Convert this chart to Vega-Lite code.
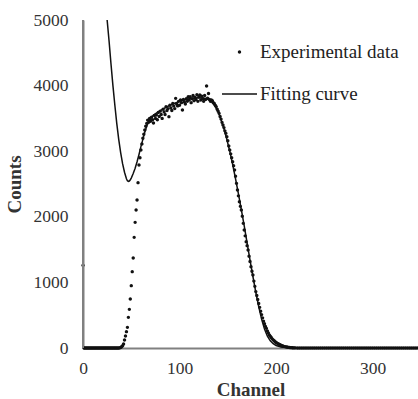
{
  "$schema": "https://vega.github.io/schema/vega-lite/v6.json",
  "width": 335,
  "height": 328,
  "autosize": "none",
  "padding": {"left": 83, "top": 20, "right": 0, "bottom": 51},
  "background": "white",
  "datasets": {
    "exp": [
      {"c":0,"v":1260},{"c":1,"v":0},{"c":2,"v":0},{"c":3,"v":0},{"c":4,"v":0},{"c":5,"v":0},{"c":6,"v":0},{"c":7,"v":0},{"c":8,"v":0},{"c":9,"v":0},{"c":10,"v":0},
      {"c":11,"v":0},{"c":12,"v":0},{"c":13,"v":0},{"c":14,"v":0},{"c":15,"v":0},{"c":16,"v":0},{"c":17,"v":0},{"c":18,"v":0},{"c":19,"v":0},{"c":20,"v":0},
      {"c":21,"v":0},{"c":22,"v":0},{"c":23,"v":0},{"c":24,"v":0},{"c":25,"v":0},{"c":26,"v":0},{"c":27,"v":0},{"c":28,"v":0},{"c":29,"v":0},{"c":30,"v":0},
      {"c":31,"v":0},{"c":32,"v":0},{"c":33,"v":0},{"c":34,"v":0},{"c":35,"v":0},{"c":36,"v":0},{"c":37,"v":0},{"c":38,"v":2},{"c":39,"v":8},{"c":40,"v":20},
      {"c":41,"v":35},{"c":42,"v":61},{"c":43,"v":122},{"c":44,"v":183},{"c":45,"v":249},{"c":46,"v":315},{"c":47,"v":468},{"c":48,"v":590},{"c":49,"v":747},{"c":50,"v":950},
      {"c":51,"v":1163},{"c":52,"v":1372},{"c":53,"v":1687},{"c":54,"v":1916},{"c":55,"v":2104},{"c":56,"v":2256},{"c":57,"v":2520},{"c":58,"v":2790},{"c":59,"v":2900},{"c":60,"v":3018},
      {"c":61,"v":3110},{"c":62,"v":3197},{"c":63,"v":3260},{"c":64,"v":3323},{"c":65,"v":3380},{"c":66,"v":3425},{"c":67,"v":3475},{"c":68,"v":3440},{"c":69,"v":3500},{"c":70,"v":3455},
      {"c":71,"v":3520},{"c":72,"v":3480},{"c":73,"v":3430},{"c":74,"v":3545},{"c":75,"v":3500},{"c":76,"v":3552},{"c":77,"v":3480},{"c":78,"v":3590},{"c":79,"v":3530},{"c":80,"v":3610},
      {"c":81,"v":3560},{"c":82,"v":3500},{"c":83,"v":3640},{"c":84,"v":3600},{"c":85,"v":3560},{"c":86,"v":3679},{"c":87,"v":3620},{"c":88,"v":3650},{"c":89,"v":3526},{"c":90,"v":3700},
      {"c":91,"v":3660},{"c":92,"v":3620},{"c":93,"v":3730},{"c":94,"v":3690},{"c":95,"v":3650},{"c":96,"v":3806},{"c":97,"v":3720},{"c":98,"v":3690},{"c":99,"v":3760},{"c":100,"v":3700},
      {"c":101,"v":3780},{"c":102,"v":3740},{"c":103,"v":3628},{"c":104,"v":3790},{"c":105,"v":3750},{"c":106,"v":3720},{"c":107,"v":3800},{"c":108,"v":3760},{"c":109,"v":3830},{"c":110,"v":3780},
      {"c":111,"v":3831},{"c":112,"v":3740},{"c":113,"v":3800},{"c":114,"v":3850},{"c":115,"v":3770},{"c":116,"v":3820},{"c":117,"v":3790},{"c":118,"v":3860},{"c":119,"v":3760},{"c":120,"v":3830},
      {"c":121,"v":3857},{"c":122,"v":3780},{"c":123,"v":3840},{"c":124,"v":3800},{"c":125,"v":3760},{"c":126,"v":3850},{"c":127,"v":3790},{"c":128,"v":3994},{"c":129,"v":3810},{"c":130,"v":3880},
      {"c":131,"v":3790},{"c":132,"v":3760},{"c":133,"v":3780},{"c":134,"v":3770},{"c":135,"v":3740},{"c":136,"v":3730},{"c":137,"v":3700},{"c":138,"v":3680},{"c":139,"v":3640},{"c":140,"v":3610},
      {"c":141,"v":3577},{"c":142,"v":3530},{"c":143,"v":3490},{"c":144,"v":3440},{"c":145,"v":3400},{"c":146,"v":3360},{"c":147,"v":3310},{"c":148,"v":3272},{"c":149,"v":3220},{"c":150,"v":3160},
      {"c":151,"v":3080},{"c":152,"v":3018},{"c":153,"v":2960},{"c":154,"v":2900},{"c":155,"v":2840},{"c":156,"v":2780},{"c":157,"v":2713},{"c":158,"v":2620},{"c":159,"v":2510},{"c":160,"v":2408},
      {"c":161,"v":2320},{"c":162,"v":2230},{"c":163,"v":2160},{"c":164,"v":2104},{"c":165,"v":2010},{"c":166,"v":1900},{"c":167,"v":1799},{"c":168,"v":1710},{"c":169,"v":1620},{"c":170,"v":1560},
      {"c":171,"v":1494},{"c":172,"v":1400},{"c":173,"v":1320},{"c":174,"v":1240},{"c":175,"v":1170},{"c":176,"v":1113},{"c":177,"v":1020},{"c":178,"v":940},{"c":179,"v":860},{"c":180,"v":800},
      {"c":181,"v":740},{"c":182,"v":680},{"c":183,"v":620},{"c":184,"v":560},{"c":185,"v":510},{"c":186,"v":460},{"c":187,"v":410},{"c":188,"v":370},{"c":189,"v":330},{"c":190,"v":300},
      {"c":191,"v":260},{"c":192,"v":230},{"c":193,"v":200},{"c":194,"v":180},{"c":195,"v":160},{"c":196,"v":140},{"c":197,"v":125},{"c":198,"v":110},{"c":199,"v":95},{"c":200,"v":85},
      {"c":201,"v":75},{"c":202,"v":65},{"c":203,"v":57},{"c":204,"v":50},{"c":205,"v":42},{"c":206,"v":36},{"c":207,"v":30},{"c":208,"v":25},{"c":209,"v":21},{"c":210,"v":18},
      {"c":211,"v":15},{"c":212,"v":12},{"c":213,"v":10},{"c":214,"v":8},{"c":215,"v":6},{"c":216,"v":5},{"c":217,"v":4},{"c":218,"v":3},{"c":219,"v":2},{"c":220,"v":2},
      {"c":222,"v":0},{"c":224,"v":0},{"c":226,"v":0},{"c":228,"v":0},{"c":230,"v":0},{"c":232,"v":0},{"c":234,"v":0},{"c":236,"v":0},{"c":238,"v":0},{"c":240,"v":0},
      {"c":242,"v":0},{"c":244,"v":0},{"c":246,"v":0},{"c":248,"v":0},{"c":250,"v":0},{"c":252,"v":0},{"c":254,"v":0},{"c":256,"v":0},{"c":258,"v":0},{"c":260,"v":0},
      {"c":262,"v":0},{"c":264,"v":0},{"c":266,"v":0},{"c":268,"v":0},{"c":270,"v":0},{"c":272,"v":0},{"c":274,"v":0},{"c":276,"v":0},{"c":278,"v":0},{"c":280,"v":0},
      {"c":282,"v":0},{"c":284,"v":0},{"c":286,"v":0},{"c":288,"v":0},{"c":290,"v":0},{"c":292,"v":0},{"c":294,"v":0},{"c":296,"v":0},{"c":298,"v":0},{"c":300,"v":0},
      {"c":302,"v":0},{"c":304,"v":0},{"c":306,"v":0},{"c":308,"v":0},{"c":310,"v":0},{"c":312,"v":0},{"c":314,"v":0},{"c":316,"v":0},{"c":318,"v":0},{"c":320,"v":0},
      {"c":322,"v":0},{"c":324,"v":0},{"c":326,"v":0},{"c":328,"v":0},{"c":330,"v":0},{"c":332,"v":0},{"c":334,"v":0},{"c":336,"v":0},{"c":338,"v":0},{"c":340,"v":0},
      {"c":342,"v":0},{"c":344,"v":0},{"c":346,"v":0}
    ],
    "fit": [
      {"c":24,"v":5160},{"c":25,"v":5000},{"c":27,"v":4680},{"c":29,"v":4330},{"c":31,"v":4000},{"c":33,"v":3700},{"c":35,"v":3420},{"c":37,"v":3180},{"c":39,"v":2980},
      {"c":41,"v":2810},{"c":43,"v":2680},{"c":45,"v":2580},{"c":46,"v":2550},{"c":47,"v":2540},{"c":48,"v":2545},{"c":49,"v":2565},{"c":50,"v":2590},{"c":52,"v":2660},
      {"c":54,"v":2740},{"c":56,"v":2840},{"c":58,"v":2950},{"c":60,"v":3070},{"c":62,"v":3180},{"c":64,"v":3290},{"c":66,"v":3380},{"c":68,"v":3450},{"c":70,"v":3500},
      {"c":73,"v":3550},{"c":76,"v":3580},{"c":80,"v":3620},{"c":85,"v":3660},{"c":90,"v":3700},{"c":95,"v":3730},{"c":100,"v":3760},{"c":105,"v":3780},{"c":110,"v":3800},
      {"c":115,"v":3810},{"c":120,"v":3815},{"c":125,"v":3810},{"c":128,"v":3800},{"c":131,"v":3780},{"c":134,"v":3740},{"c":137,"v":3680},{"c":140,"v":3600},{"c":143,"v":3480},
      {"c":146,"v":3340},{"c":149,"v":3180},{"c":152,"v":3000},{"c":155,"v":2800},{"c":158,"v":2580},{"c":161,"v":2350},{"c":164,"v":2110},{"c":167,"v":1860},{"c":170,"v":1600},
      {"c":173,"v":1340},{"c":176,"v":1090},{"c":179,"v":850},{"c":182,"v":630},{"c":185,"v":440},{"c":188,"v":290},{"c":191,"v":180},{"c":194,"v":110},{"c":197,"v":65},
      {"c":200,"v":38},{"c":205,"v":15},{"c":210,"v":5},{"c":220,"v":0},{"c":347,"v":0}
    ]
  },
  "config": {
    "view": {"stroke": null},
    "axis": {
      "domain": true,
      "domainColor": "#808080",
      "domainWidth": 2,
      "ticks": false,
      "grid": false,
      "labelFont": "Liberation Serif",
      "labelFontSize": 17.5,
      "labelColor": "#333333",
      "titleFont": "Liberation Serif",
      "titleFontSize": 19,
      "titleFontWeight": "bold",
      "titleColor": "#333333",
      "format": "d"
    }
  },
  "layer": [
    {
      "data": {"name": "fit"},
      "mark": {"type": "line", "color": "#111111", "strokeWidth": 1.5, "clip": true},
      "encoding": {
        "x": {
          "field": "c", "type": "quantitative",
          "scale": {"domain": [0, 347], "nice": false},
          "axis": {"title": "Channel", "values": [0, 100, 200, 300], "labelPadding": 11, "titlePadding": 4, "labelFlush": false}
        },
        "y": {
          "field": "v", "type": "quantitative",
          "scale": {"domain": [0, 5000], "nice": false},
          "axis": {"title": "Counts", "values": [0, 1000, 2000, 3000, 4000, 5000], "labelPadding": 15, "titlePadding": 9}
        }
      }
    },
    {
      "data": {"name": "exp"},
      "mark": {"type": "point", "filled": true, "color": "#111111", "opacity": 1, "size": 1225},
      "encoding": {
        "x": {"field": "c", "type": "quantitative"},
        "y": {"field": "v", "type": "quantitative"},
        "shape": {
          "datum": "Experimental data",
          "scale": {
            "domain": ["Experimental data", "Fitting curve"],
            "range": ["M-0.095,0A0.095,0.095 0 1,0 0.095,0A0.095,0.095 0 1,0 -0.095,0Z", "M-1,-0.045H1V0.045H-1Z"]
          },
          "legend": {
            "title": null,
            "orient": "none",
            "legendX": 139,
            "legendY": 14.5,
            "padding": 0,
            "symbolSize": 1225,
            "symbolFillColor": "#111111",
            "symbolStrokeWidth": 0,
            "symbolOpacity": 1,
            "rowPadding": 14,
            "labelOffset": 3,
            "labelFont": "Liberation Serif",
            "labelFontSize": 19,
            "labelColor": "#222222",
            "labelLimit": 300
          }
        }
      }
    },
    {
      "data": {"values": [{"c": 0, "v0": 0, "v1": 5000}]},
      "mark": {"type": "rule", "color": "#808080", "strokeWidth": 2},
      "encoding": {
        "x": {"field": "c", "type": "quantitative"},
        "y": {"field": "v0", "type": "quantitative"},
        "y2": {"field": "v1"}
      }
    }
  ]
}
